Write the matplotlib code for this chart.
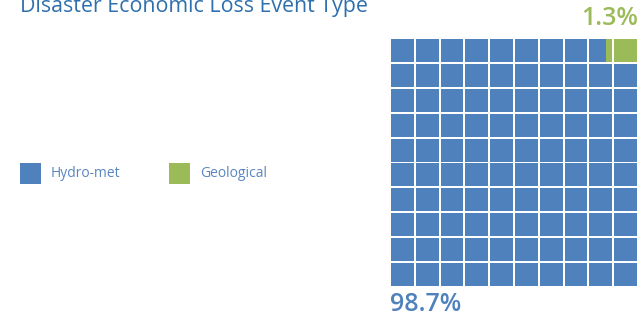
import matplotlib.pyplot as plt
from matplotlib.patches import Rectangle

plt.rcParams['font.family'] = ['Open Sans', 'DejaVu Sans']

# data
categories = ['Hydro-met', 'Geological']
shares = [98.7, 1.3]
colors = ['#4f81bd', '#9bbb59']
n_rows = 10
n_cols = 10

fig = plt.figure(figsize=(6.43, 3.16), dpi=100)

# title, partly cut off at the top like the original
fig.text(20 / 643, 1 - 12 / 316, 'Disaster Economic Loss Event Type',
         color='#2e6fad', fontsize=15.4, va='baseline', ha='left')

# waffle grid
ax = fig.add_axes([390 / 643, 29 / 316, 248 / 643, 249 / 316])
ax.set_xlim(0, n_cols)
ax.set_ylim(0, n_rows)
ax.axis('off')

gap = 0.08
bounds = []
start = 0
for s in shares:
    bounds.append((start, start + s))
    start += s

for i in range(n_rows * n_cols):
    col = i % n_cols
    row = i // n_cols
    for (lo, hi), c in zip(bounds, colors):
        a = max(lo, i)
        b = min(hi, i + 1)
        if b <= a:
            continue
        x0 = col + max(a - i, gap / 2)
        x1 = col + min(b - i, 1 - gap / 2)
        if x1 <= x0:
            continue
        ax.add_patch(Rectangle((x0, row + gap / 2), x1 - x0, 1 - gap,
                               facecolor=c, edgecolor='none'))

# percentage labels
ax.text(1.0, 1.03, f'{shares[1]}%', transform=ax.transAxes, ha='right',
        va='bottom', fontsize=18, fontweight='semibold', color=colors[1])
ax.text(0.0, -0.02, f'{shares[0]}%', transform=ax.transAxes, ha='left',
        va='top', fontsize=18, fontweight='semibold', color=colors[0])

# legend
leg_x = [20, 169]
for x, cat, c in zip(leg_x, categories, colors):
    fig.patches.append(Rectangle((x / 643, 1 - 184 / 316), 21 / 643, 21 / 316,
                                 transform=fig.transFigure, facecolor=c,
                                 edgecolor='none'))
    fig.text((x + 31) / 643, 1 - 173.5 / 316, cat, color='#5a86bf',
             fontsize=10, va='center', ha='left')

fig.savefig('out.png', dpi=100)
